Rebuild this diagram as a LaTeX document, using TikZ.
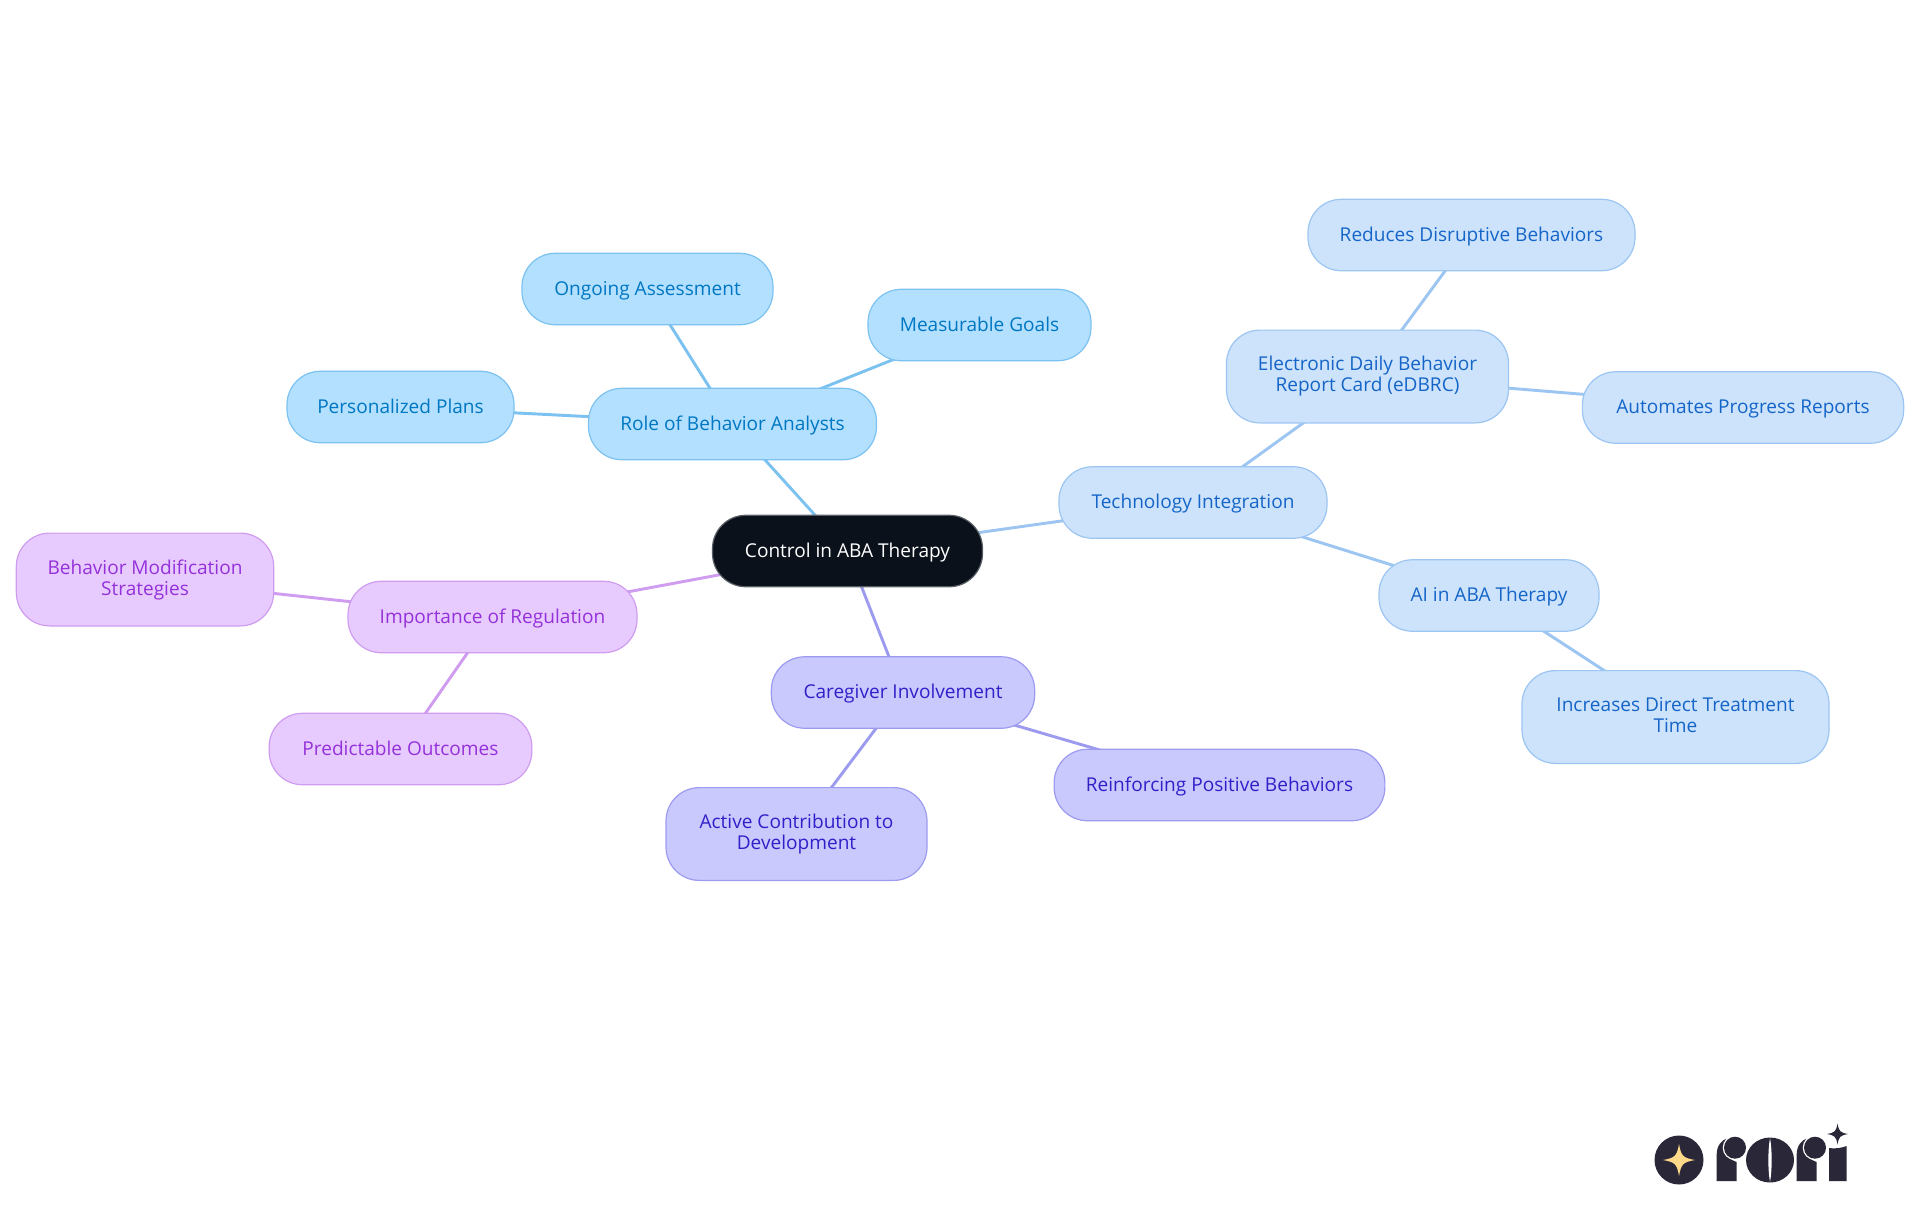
\documentclass[tikz,border=0pt]{standalone}
\usepackage{fontspec}
\setmainfont{Open Sans}
\pgfdeclarelayer{links}
\pgfsetlayers{links,main}
\definecolor{rootfill}{HTML}{0A111A}
\definecolor{rootline}{HTML}{5A5F66}
\definecolor{bluefill}{HTML}{B3E0FF}
\definecolor{blueline}{HTML}{7CC2F0}
\definecolor{bluetext}{HTML}{0077C2}
\definecolor{skyfill}{HTML}{CDE3FB}
\definecolor{skyline}{HTML}{9CC5F2}
\definecolor{skytext}{HTML}{1565C8}
\definecolor{indfill}{HTML}{C9C9FE}
\definecolor{indline}{HTML}{9D9BF0}
\definecolor{indtext}{HTML}{3120C8}
\definecolor{purfill}{HTML}{E7CBFE}
\definecolor{purline}{HTML}{CF9CF0}
\definecolor{purtext}{HTML}{9531DA}
\definecolor{logodark}{HTML}{2A2838}
\definecolor{logogold}{HTML}{FFD98A}
\newcommand{\nodestrut}{\rule[-3.2pt]{0pt}{15.75pt}}
\tikzset{
  x=0.75pt,y=-0.75pt,
  mapnode/.style={rectangle,rounded corners=25pt,line width=0.9pt,inner sep=0pt,align=center,
    font=\fontsize{14.3}{15.75}\selectfont,
    execute at begin node=\nodestrut,execute at end node=\nodestrut},
  rootnode/.style={mapnode,fill=rootfill,draw=rootline,text=white},
  bluenode/.style={mapnode,fill=bluefill,draw=blueline,text=bluetext},
  skynode/.style={mapnode,fill=skyfill,draw=skyline,text=skytext},
  indnode/.style={mapnode,fill=indfill,draw=indline,text=indtext},
  purnode/.style={mapnode,fill=purfill,draw=purline,text=purtext},
  oneline/.style={minimum height=53.6pt},
  twoline/.style={minimum height=69.6pt},
  link/.style={line width=2.2pt},
  bluelink/.style={link,draw=blueline},
  skylink/.style={link,draw=skyline},
  indlink/.style={link,draw=indline},
  purlink/.style={link,draw=purline},
  logoshape/.style={fill=logodark,draw=none},
}
\newcommand{\fourstar}[4]{% x,y,r,colour
  \fill[#4] (#1,#2-#3) .. controls (#1+#3*.14,#2-#3*.24) and (#1+#3*.24,#2-#3*.14) .. (#1+#3,#2)
   .. controls (#1+#3*.24,#2+#3*.14) and (#1+#3*.14,#2+#3*.24) .. (#1,#2+#3)
   .. controls (#1-#3*.14,#2+#3*.24) and (#1-#3*.24,#2+#3*.14) .. (#1-#3,#2)
   .. controls (#1-#3*.24,#2-#3*.14) and (#1-#3*.14,#2-#3*.24) .. (#1,#2-#3) -- cycle;}
\newcommand{\logor}[1]{% left edge
  \fill[logoshape] (#1,1181) -- (#1,1154) .. controls (#1,1146) and (#1+5,1139) .. (#1+11.7,1138.3)
    .. controls (#1+5,1146) and (#1+7,1158) .. (#1+20,1162) -- (#1+20,1181) -- cycle;
  \fill[white] (#1+18.3,1147.7) circle[radius=12.3];
  \fill[logoshape] (#1+18.3,1147.7) circle[radius=11];}
\begin{document}
\begin{tikzpicture}
\useasboundingbox (0,0) rectangle (1920,1215);
\node[rootnode,oneline,minimum width=202.5pt] (root) at (847.5,551) {Control in ABA Therapy};
\node[bluenode,oneline,minimum width=216pt] (role) at (732.5,424) {Role of Behavior Analysts};
\node[bluenode,oneline,minimum width=188.25pt] (ongoing) at (647.5,289) {Ongoing Assessment};
\node[bluenode,oneline,minimum width=167.25pt] (goals) at (979.5,325) {Measurable Goals};
\node[bluenode,oneline,minimum width=170.25pt] (plans) at (400.5,407) {Personalized Plans};
\node[skynode,oneline,minimum width=201pt] (tech) at (1193,502.5) {Technology Integration};
\node[skynode,twoline,minimum width=211.5pt] (edbrc) at (1367.5,376.5) {Electronic Daily Behavior\\Report Card (eDBRC)};
\node[skynode,oneline,minimum width=245.25pt] (reduces) at (1471.5,235) {Reduces Disruptive Behaviors};
\node[skynode,oneline,minimum width=241pt] (reports) at (1743,407.5) {Automates Progress Reports};
\node[skynode,oneline,minimum width=165pt] (ai) at (1489,595.5) {AI in ABA Therapy};
\node[skynode,twoline,minimum width=230.25pt] (time) at (1675.5,717) {Increases Direct Treatment\\Time};
\node[indnode,oneline,minimum width=197.5pt] (care) at (903,692.5) {Caregiver Involvement};
\node[indnode,oneline,minimum width=248pt] (positive) at (1219.5,785) {Reinforcing Positive Behaviors};
\node[indnode,twoline,minimum width=195.75pt] (active) at (796.5,834) {Active Contribution to\\Development};
\node[purnode,oneline,minimum width=216.75pt] (reg) at (492.5,617) {Importance of Regulation};
\node[purnode,twoline,minimum width=193pt] (mod) at (145,579.5) {Behavior Modification\\Strategies};
\node[purnode,oneline,minimum width=197pt] (pred) at (400.5,749) {Predictable Outcomes};
\begin{pgfonlayer}{links}
\draw[bluelink] (root.center) -- (role.center);
\draw[bluelink] (role.center) -- (ongoing.center);
\draw[bluelink] (role.center) -- (goals.center);
\draw[bluelink] (role.center) -- (plans.center);
\draw[skylink] (root.center) -- (tech.center);
\draw[skylink] (tech.center) -- (edbrc.center);
\draw[skylink] (edbrc.center) -- (reduces.center);
\draw[skylink] (edbrc.center) -- (reports.center);
\draw[skylink] (tech.center) -- (ai.center);
\draw[skylink] (ai.center) -- (time.center);
\draw[indlink] (root.center) -- (care.center);
\draw[indlink] (care.center) -- (positive.center);
\draw[indlink] (care.center) -- (active.center);
\draw[purlink] (root.center) -- (reg.center);
\draw[purlink] (reg.center) -- (mod.center);
\draw[purlink] (reg.center) -- (pred.center);
\end{pgfonlayer}
% logo
\fill[logoshape] (1679,1160) circle[radius=24.5];
\fourstar{1679}{1160}{16}{logogold}
\logor{1716.7}
\fill[logoshape] (1770,1160) ellipse[x radius=24,y radius=22.5];
\fill[white] (1770,1138) .. controls (1767.8,1150) and (1767.8,1170) .. (1770,1182) .. controls (1772.2,1170) and (1772.2,1150) .. (1770,1138) -- cycle;
\logor{1796.7}
\fill[logoshape] (1829,1181) -- (1829,1148) .. controls (1835,1149) and (1841,1148) .. (1846.7,1146) -- (1846.7,1181) -- cycle;
\fourstar{1837.5}{1134}{10.5}{logodark}
\end{tikzpicture}
\end{document}
